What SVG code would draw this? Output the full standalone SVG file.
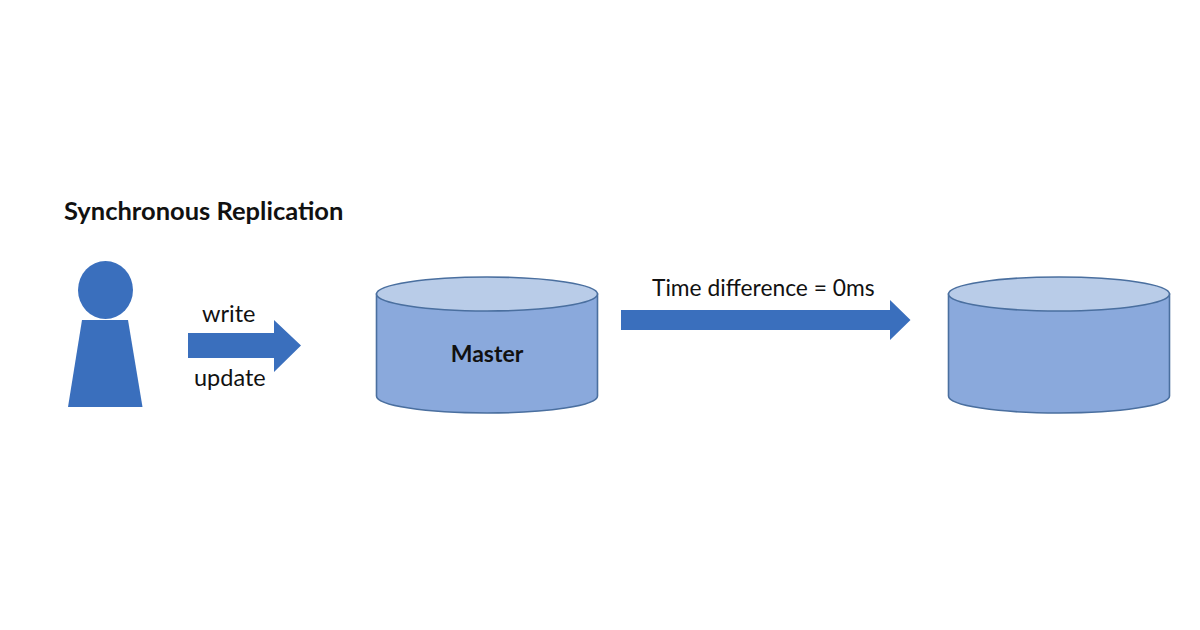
<svg xmlns="http://www.w3.org/2000/svg" width="1200" height="630" viewBox="0 0 1200 630">
<defs>
<style>
text{font-family:Lato,"Open Sans","Liberation Sans",sans-serif;fill:#111;font-size:23px}
.b{font-weight:700}
.blue{fill:#3a6fbd}
.side{fill:#8aa9dc;stroke:#4a6f9f;stroke-width:1.6}
.top{fill:#b9cce8;stroke:#4a6f9f;stroke-width:1.6}
</style>
</defs>
<rect width="1200" height="630" fill="#fff"/>
<text id="title" class="b" x="64" y="220" style="font-size:25.500px">Synchronous Replication</text>
<g id="person">
<path class="blue" d="M82 320H128L142.500 407H68Z"/>
<ellipse class="blue" cx="105.500" cy="290" rx="27.500" ry="29"/>
</g>
<g id="connectors">
<path id="arrow-write" class="blue" d="M188 333H274V320L301 345.500L274 372V358H188Z"/>
<path id="arrow-replicate" class="blue" d="M621 310H890V300L910.500 320L890 340V330H621Z"/>
</g>
<text id="label-write" x="202" y="322" style="font-size:23.500px">write</text>
<text id="label-update" x="194" y="386" style="font-size:23.500px">update</text>
<text id="label-time" x="652" y="296" style="font-size:22.800px">Time difference = 0ms</text>
<g id="master">
<path class="side" d="M376.500 294V396C376.500 405.500 426 413 487 413S597.500 405.500 597.500 396V294Z"/>
<ellipse class="top" cx="487" cy="294" rx="110.500" ry="17"/>
<text class="b" x="487" y="362" text-anchor="middle">Master</text>
</g>
<g id="replica">
<path class="side" d="M948.500 294V396C948.500 405.500 998 413 1059 413S1169.500 405.500 1169.500 396V294Z"/>
<ellipse class="top" cx="1059" cy="294" rx="110.500" ry="17"/>
</g>
</svg>
